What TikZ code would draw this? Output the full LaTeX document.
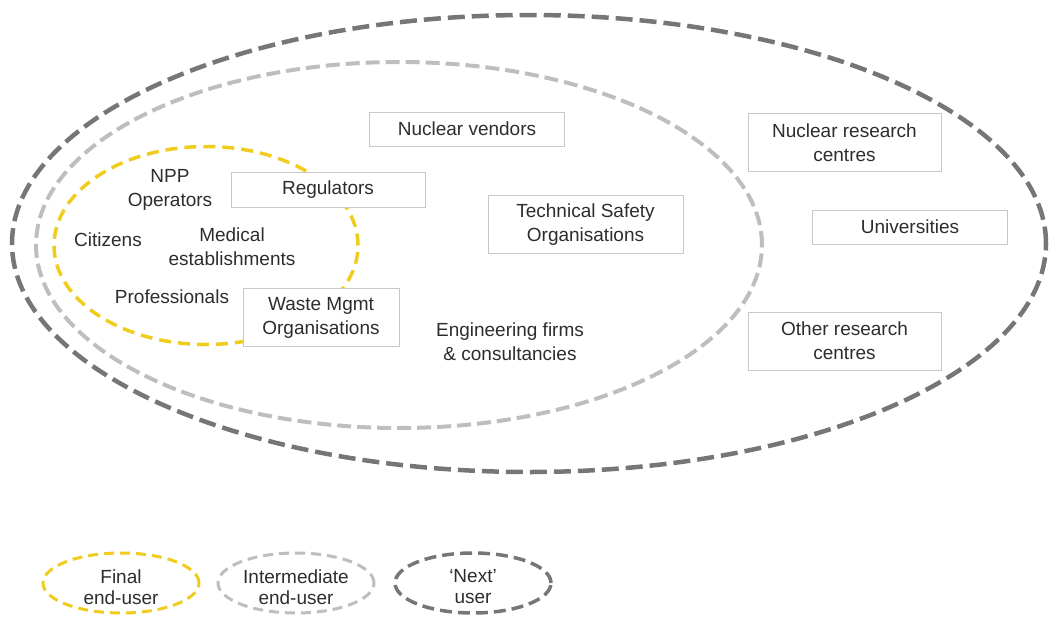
\documentclass[tikz,border=0pt]{standalone}
\usepackage{fontspec}
\setmainfont{Liberation Sans}
\usepackage{tikz}
\usetikzlibrary{shapes.geometric}
\definecolor{eyyellow}{RGB}{240,204,30}
\definecolor{midgray}{RGB}{190,190,190}
\definecolor{darkgray}{RGB}{118,118,118}
\definecolor{boxgray}{RGB}{200,200,200}
\definecolor{txtgray}{RGB}{45,45,45}

\begin{document}
\begin{tikzpicture}[x=1pt,y=-1pt,
    box/.style={draw=boxgray,fill=white,line width=0.8pt,align=center,text=txtgray,inner sep=0pt},
    word/.style={align=center,text=txtgray,inner sep=0pt},
    finalring/.style={draw=eyyellow,line width=3.5pt,dash pattern=on 12pt off 7pt},
    interring/.style={draw=midgray,line width=4pt,dash pattern=on 14pt off 6pt},
    nextring/.style={draw=darkgray,line width=4.5pt,dash pattern=on 17pt off 7pt},
    key/.style={ellipse,minimum width=156pt,minimum height=60pt,inner sep=0pt},
    keyword/.style={word,font=\fontsize{19}{21}\selectfont}]
            \fontsize{19}{24}\selectfont
            \useasboundingbox (0,0) rectangle (1049,616);

            \coordinate (next) at (529,243.5);
            \coordinate (inter) at (399,245);
            \coordinate (final) at (206,245.5);

            % user rings
            \draw[nextring] (next) ellipse [x radius=517pt,y radius=228.5pt];
            \draw[interring] (inter) ellipse [x radius=363pt,y radius=183pt];
            \draw[finalring] (final) ellipse [x radius=152pt,y radius=99pt];

            % free labels
            \node[word] (npp) at (170,190) {NPP\\Operators};
            \node[word] (cit) at (108,240) {Citizens};
            \node[word] (med) at (232,247) {Medical\\establishments};
            \node[word] (prof) at (172,297) {Professionals};
            \node[word] (eng) at (510,342) {Engineering firms\\\& consultancies};

            % boxed organisations
            \node[box,minimum width=195pt,minimum height=34pt] (vend) at (467,129) {Nuclear vendors};
            \node[box,minimum width=194pt,minimum height=35pt] (reg) at (328,190) {Regulators};
            \node[box,minimum width=195pt,minimum height=58pt] (tso) at (585.5,224.5) {Technical Safety\\Organisations};
            \node[box,minimum width=156pt,minimum height=58pt] (waste) at (321,317.5) {Waste Mgmt\\Organisations};
            \node[box,minimum width=193pt,minimum height=58pt] (nrc) at (844.5,142.5) {Nuclear research\\centres};
            \node[box,minimum width=195pt,minimum height=34pt] (uni) at (910,227) {Universities};
            \node[box,minimum width=193pt,minimum height=58pt] (orc) at (844.5,341) {Other research\\centres};

            % legend
            \node[key,finalring,line width=3pt,dash pattern=on 10pt off 6pt] (kfinal) at (121,583) {};
            \node[key,interring,line width=3pt,dash pattern=on 10pt off 6pt] (kinter) at (296,583) {};
            \node[key,nextring,line width=3.5pt,dash pattern=on 12pt off 6pt] (knext) at (473,583) {};
            \node[keyword] (tfinal) at ([yshift=-4pt]kfinal.center) {Final\\end-user};
            \node[keyword] (tinter) at ([yshift=-4pt]kinter.center) {Intermediate\\end-user};
            \node[keyword] (tnext) at ([yshift=-4pt]knext.center) {‘Next’\\user};
        \end{tikzpicture}
\end{document}
